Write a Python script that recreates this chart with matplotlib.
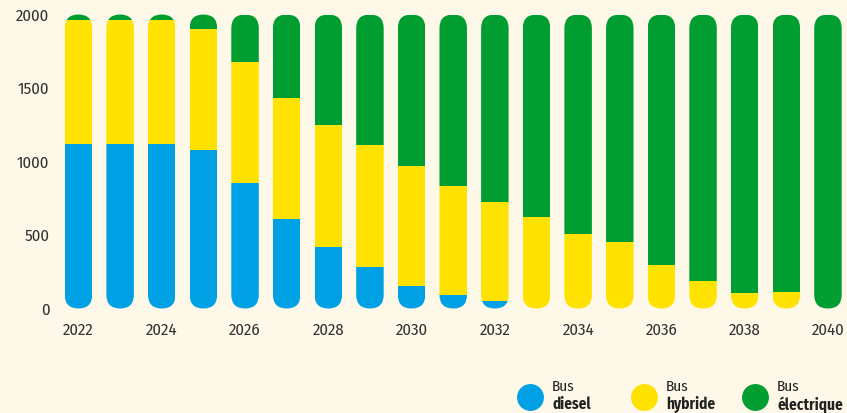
import matplotlib
matplotlib.use("Agg")
import matplotlib.pyplot as plt
from matplotlib.patches import FancyBboxPatch
import numpy as np

plt.rcParams['font.family'] = ['Fira Sans Condensed', 'Asap Condensed', 'Open Sans', 'DejaVu Sans']

years = list(range(2022, 2041))
diesel = [1120, 1120, 1120, 1080, 855, 610, 420, 280, 150, 90, 50, 0, 0, 0, 0, 0, 0, 0, 0]
hybrid_top = [1960, 1960, 1960, 1900, 1680, 1430, 1250, 1110, 970, 830, 725, 620, 510, 450, 295, 185, 105, 110, 0]
total = 2000
hybrid = [h - d for h, d in zip(hybrid_top, diesel)]
electric = [total - h for h in hybrid_top]

xtick_labels = [str(y) for y in range(2022, 2041, 2)]
yticks = [0, 500, 1000, 1500, 2000]

legend_top = ["Bus", "Bus", "Bus"]
legend_bottom = ["diesel", "hybride", "électrique"]

c_diesel = "#00A1E4"
c_hybrid = "#FFE200"
c_electric = "#009D31"
bg = "#FDF8E7"
txt = "#333333"

W, H = 847, 413
fig = plt.figure(figsize=(W / 100, H / 100), dpi=100, facecolor=bg)
ax = fig.add_axes([53.5 / W, 101.56 / H, (846.7 - 53.5) / W, 299.88 / H])
ax.set_facecolor(bg)
ax.set_xlim(2021.4, 2040.45)
ax.set_ylim(-20, 2020)

bw = 0.66
x = np.array(years)
b1 = ax.bar(x, diesel, width=bw, color=c_diesel, linewidth=0)
b2 = ax.bar(x, hybrid, width=bw, bottom=diesel, color=c_hybrid, linewidth=0)
b3 = ax.bar(x, electric, width=bw, bottom=hybrid_top, color=c_electric, linewidth=0)

p0 = ax.transData.transform((0, 0))
p1 = ax.transData.transform((1, 1))
aspect = (p1[0] - p0[0]) / (p1[1] - p0[1])

for i, xi in enumerate(x):
    clip = FancyBboxPatch((xi - bw / 2, 0), bw, total,
                          boxstyle=f"round,pad=0,rounding_size={bw / 2}",
                          mutation_aspect=aspect, transform=ax.transData)
    for bars in (b1, b2, b3):
        bars[i].set_clip_path(clip)

for s in ax.spines.values():
    s.set_visible(False)
ax.set_xticks(list(range(2022, 2041, 2)))
ax.set_xticklabels(xtick_labels)
ax.set_yticks(yticks)
ax.set_yticklabels([str(v) for v in yticks])
ax.tick_params(axis='both', length=0, labelsize=12, labelcolor=txt)
ax.tick_params(axis='y', pad=3)
ax.tick_params(axis='x', pad=8)

lax = fig.add_axes([0, 0, 1, 1])
lax.set_xlim(0, W)
lax.set_ylim(H, 0)
lax.axis('off')
lx = [529.7, 643.7, 754.7]
cols = [c_diesel, c_hybrid, c_electric]
for xc, c, t1, t2 in zip(lx, cols, legend_top, legend_bottom):
    lax.scatter([xc], [396.5], s=375, color=c, linewidths=0)
    lax.text(xc + 22.5, 387, t1, fontsize=11, color="#222222", va='center', ha='left')
    lax.text(xc + 22.5, 404.5, t2, fontsize=11, fontweight='bold', color="#222222", va='center', ha='left')

fig.savefig("out.png", dpi=100, facecolor=bg)
